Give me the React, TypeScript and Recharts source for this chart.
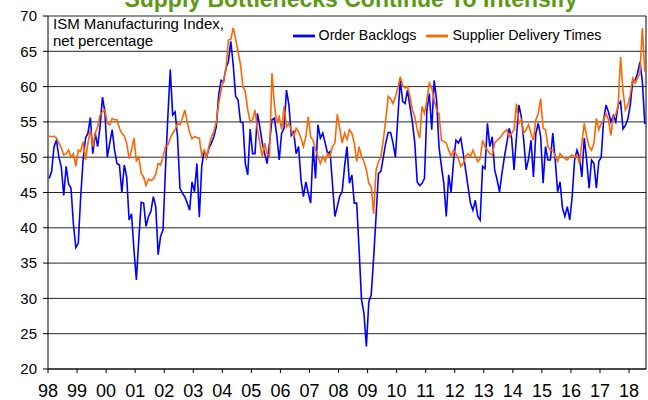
import { LineChart, Line, XAxis, YAxis, CartesianGrid, ReferenceLine, Legend } from "recharts";

// ISM manufacturing, monthly, Jan 1998 - Jul 2018
const yearLabels = ["98", "99", "00", "01", "02", "03", "04", "05", "06", "07", "08", "09", "10", "11", "12", "13", "14", "15", "16", "17", "18"];
const yTicks = [20, 25, 30, 35, 40, 45, 50, 55, 60, 65, 70];

const orderBacklogs = [
  47.0, 48.0, 51.5, 52.4, 50.0, 48.6, 44.6, 48.7, 46.2, 45.6, 40.5, 37.2, // 98
  37.8, 44.4, 49.6, 52.7, 53.4, 55.6, 50.5, 53.4, 51.5, 54.3, 58.5, 56.4, // 99
  50.0, 52.0, 53.9, 51.0, 49.1, 48.9, 45.0, 48.9, 47.2, 41.1, 42.0, 36.9, // 00
  32.6, 38.3, 43.6, 43.5, 40.2, 41.6, 42.3, 44.4, 43.0, 36.2, 38.8, 39.7, // 01
  48.2, 55.7, 62.4, 56.0, 56.4, 52.9, 45.6, 44.9, 44.4, 43.5, 42.5, 46.5, // 02
  45.1, 49.1, 41.5, 48.7, 51.0, 50.0, 51.3, 52.0, 52.9, 54.3, 58.8, 60.9, // 03
  60.7, 62.6, 63.5, 66.4, 63.1, 58.6, 58.1, 55.0, 54.9, 49.1, 47.5, 54.0, // 04
  50.5, 50.5, 56.2, 54.3, 52.0, 50.5, 49.1, 52.0, 55.3, 55.5, 53.1, 49.6, // 05
  53.4, 54.1, 59.5, 57.4, 53.1, 53.6, 50.5, 51.5, 46.8, 44.4, 46.5, 44.9, // 06
  43.5, 51.5, 47.0, 54.6, 52.7, 53.4, 52.0, 50.5, 50.8, 46.2, 41.6, 43.0, // 07
  44.5, 45.1, 48.7, 51.5, 46.3, 47.5, 43.5, 43.5, 36.9, 29.8, 27.9, 23.2, // 08
  29.5, 30.5, 35.7, 41.6, 47.7, 48.0, 50.0, 52.0, 53.5, 53.5, 52.0, 50.0, // 09
  55.7, 60.9, 57.9, 57.6, 59.5, 57.2, 55.0, 52.0, 46.5, 46.0, 46.3, 47.0, // 10
  56.7, 59.0, 53.9, 60.9, 58.1, 51.5, 48.7, 46.3, 41.6, 47.5, 45.0, 49.4, // 11
  52.4, 52.0, 52.7, 50.5, 48.2, 45.8, 43.5, 42.5, 43.9, 41.6, 41.1, 48.7, // 12
  48.4, 54.8, 51.5, 52.9, 48.2, 46.8, 45.1, 47.7, 50.0, 52.0, 54.1, 52.7, // 13
  48.2, 52.9, 57.4, 55.7, 52.4, 48.2, 49.8, 52.4, 47.2, 53.4, 54.8, 52.9, // 14
  46.3, 51.5, 49.6, 49.6, 53.4, 49.6, 45.1, 46.5, 42.8, 41.6, 43.0, 41.1, // 15
  44.4, 49.6, 51.0, 50.0, 47.2, 52.7, 49.6, 45.6, 49.6, 49.1, 45.6, 49.4, // 16
  50.0, 55.3, 57.4, 56.4, 55.0, 55.9, 55.0, 57.4, 57.9, 54.0, 54.5, 55.4, // 17
  57.4, 60.7, 60.9, 61.9, 63.5, 60.7, 54.7, // 18
];

const supplierDeliveries = [
  53.0, 52.9, 53.0, 52.7, 52.0, 51.3, 50.3, 50.5, 51.0, 50.0, 50.5, 48.7, // 98
  51.0, 50.8, 52.2, 49.6, 52.0, 53.9, 51.5, 53.4, 54.3, 56.0, 56.4, 56.7, // 99
  54.8, 54.6, 55.5, 55.3, 55.3, 54.1, 53.4, 53.0, 52.0, 49.8, 51.0, 52.7, // 00
  49.5, 50.0, 47.7, 47.2, 46.0, 46.9, 46.7, 46.9, 47.6, 49.1, 48.9, 50.0, // 01
  51.5, 51.7, 52.7, 53.4, 53.9, 54.8, 54.6, 55.5, 56.7, 55.0, 53.5, 52.6, // 02
  52.9, 52.8, 52.7, 50.3, 51.0, 50.0, 51.6, 52.9, 53.6, 55.0, 57.6, 59.5, // 03
  60.9, 62.4, 66.6, 66.7, 68.3, 66.8, 64.9, 63.1, 60.0, 59.3, 56.7, 55.0, // 04
  55.3, 56.7, 53.9, 52.0, 50.1, 52.0, 50.5, 50.1, 61.9, 57.5, 54.8, 55.7, // 05
  53.9, 57.2, 54.3, 54.8, 53.9, 52.9, 54.1, 53.6, 52.7, 51.5, 52.9, 55.7, // 06
  52.9, 52.4, 51.0, 50.1, 49.1, 50.1, 49.4, 50.5, 50.1, 51.5, 52.0, 56.1, // 07
  54.0, 52.0, 53.4, 52.5, 53.9, 53.4, 52.0, 49.4, 51.5, 50.1, 49.4, 48.2, // 08
  46.3, 45.8, 42.0, 48.2, 49.4, 50.1, 52.4, 55.3, 58.6, 58.3, 57.6, 58.6, // 09
  59.8, 61.4, 60.2, 59.8, 60.0, 58.6, 56.7, 55.7, 53.9, 52.7, 57.2, 56.2, // 10
  58.1, 60.5, 59.8, 58.1, 56.7, 56.2, 52.4, 52.2, 52.0, 51.0, 50.1, 51.0, // 11
  50.5, 49.8, 48.7, 49.1, 50.1, 50.5, 50.1, 51.0, 50.1, 49.4, 49.8, 52.4, // 12
  51.5, 51.0, 50.5, 50.3, 52.0, 52.4, 52.7, 53.1, 53.6, 53.9, 52.9, 53.4, // 13
  53.9, 57.6, 54.8, 55.3, 53.4, 53.9, 54.6, 53.4, 52.4, 55.3, 56.2, 58.3, // 14
  54.1, 53.9, 51.5, 51.0, 51.0, 50.1, 49.4, 50.5, 50.1, 49.8, 49.6, 50.1, // 15
  50.3, 50.0, 50.3, 49.1, 52.0, 54.8, 52.9, 51.5, 51.0, 52.0, 55.5, 53.9, // 16
  54.8, 55.3, 56.2, 55.3, 53.1, 55.8, 56.0, 57.4, 64.2, 59.3, 56.7, 57.4, // 17
  58.8, 61.2, 60.5, 61.2, 61.9, 68.3, 62.1, // 18
];

// points sit in the middle of each month slot, year ticks on the slot edges
const data = orderBacklogs.map((v, i) => ({
  t: i + 0.5,
  backlogs: v,
  deliveries: supplierDeliveries[i],
}));
const monthCount = orderBacklogs.length;
const xTicks = yearLabels.map((_, i) => i * 12);

const FONT = '"Liberation Sans", Arial, sans-serif';

export default function App() {
  return (
    <div style={{ position: "fixed", top: 0, left: 0, width: 648, height: 400, background: "#fff", fontFamily: FONT }}>
      <LineChart width={648} height={400} data={data} margin={{ top: 16, right: 2, left: 0, bottom: 0 }}>
        <CartesianGrid vertical={false} stroke="#000" strokeOpacity={0.85} />
        <XAxis
          type="number"
          dataKey="t"
          domain={[0, monthCount]}
          ticks={xTicks}
          interval={0}
          tickFormatter={(v: number) => yearLabels[Math.round(v / 12)]}
          height={31}
          tickSize={4}
          tickMargin={11}
          stroke="#000"
          tick={{ fill: "#000", fontSize: 18, fontFamily: FONT }}
        />
        <YAxis
          domain={[20, 70]}
          ticks={yTicks}
          interval={0}
          width={48}
          tickSize={5}
          tickMargin={6}
          stroke="#000"
          tick={{ fill: "#000", fontSize: 15, fontFamily: FONT }}
        />
        <ReferenceLine x={monthCount} stroke="#000" />
        <Legend
          layout="horizontal"
          verticalAlign="middle"
          align="center"
          iconType="plainline"
          iconSize={22}
          wrapperStyle={{ top: 25, left: 292, width: 320, height: 22, fontSize: 14.2, fontFamily: FONT }}
          formatter={(value: string) => <span style={{ color: "#000" }}>{value}</span>}
        />
        <Line
          name="Order Backlogs"
          dataKey="backlogs"
          stroke="#0000ff"
          strokeWidth={1.6}
          dot={false}
          isAnimationActive={false}
        />
        <Line
          name="Supplier Delivery Times"
          dataKey="deliveries"
          stroke="#ff6600"
          strokeWidth={1.6}
          dot={false}
          isAnimationActive={false}
        />
      </LineChart>
      <svg width={648} height={400} style={{ position: "absolute", top: 0, left: 0, pointerEvents: "none" }}>
        <text x={351} y={7} textAnchor="middle" fontSize={23} fontWeight="bold" fill="#5e9916" fontFamily={FONT}>
          Supply Bottlenecks Continue To Intensify
        </text>
        <text x={53} y={29} fontSize={15} fill="#000" fontFamily={FONT}>ISM Manufacturing Index,</text>
        <text x={53} y={46} fontSize={15} fill="#000" fontFamily={FONT}>net percentage</text>
      </svg>
    </div>
  );
}
